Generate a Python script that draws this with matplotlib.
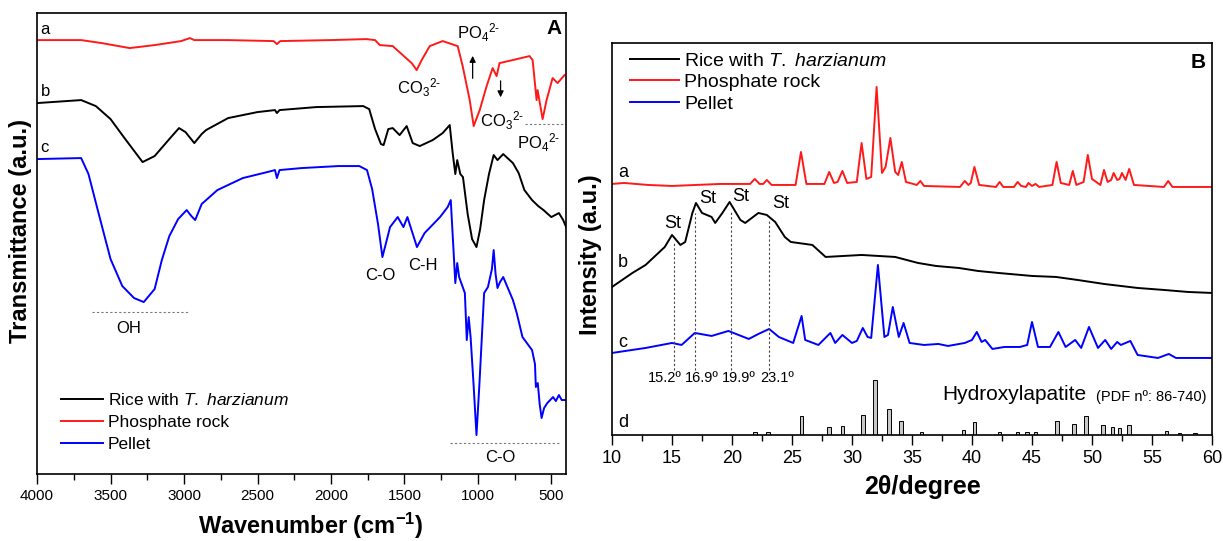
import numpy as np
import matplotlib
matplotlib.use("Agg")
import matplotlib.pyplot as plt

plt.rcParams['font.family'] = ['Liberation Sans', 'DejaVu Sans']
plt.rcParams['mathtext.fontset'] = 'custom'
plt.rcParams['mathtext.rm'] = 'Liberation Sans'
plt.rcParams['mathtext.it'] = 'Liberation Sans:italic'
plt.rcParams['mathtext.bf'] = 'Liberation Sans:bold'

# --- Panel A: FTIR (wavenumber, transmittance a.u.) ---
ftir_a_w = [4000, 3700, 3560, 3370, 3200, 3020, 2960, 2930, 2700, 2390, 2368, 2345, 2000, 1760, 1700,
            1668, 1580, 1512, 1451, 1417, 1383, 1328, 1240, 1138, 1104, 1056, 1029, 988, 941, 900, 873,
            853, 764, 649, 628, 601, 594, 560, 533, 492, 458, 411]
ftir_a_t = [434, 434, 431, 426, 429, 433, 436, 434, 434, 433, 430, 433, 434, 435, 434,
            429, 428, 419, 411, 404, 414, 428, 433, 428, 408, 374, 348, 364, 388, 406, 398,
            411, 414, 418, 414, 374, 384, 355, 374, 396, 391, 399]

ftir_b_w = [4000, 3900, 3700, 3600, 3500, 3400, 3282, 3200, 3100, 3034, 2990, 2930, 2880, 2850, 2700,
            2500, 2381, 2368, 2350, 2100, 1781, 1740, 1700, 1660, 1642, 1610, 1580, 1533, 1485, 1444,
            1396, 1308, 1240, 1192, 1172, 1154, 1141, 1120, 1102, 1070, 1040, 1010, 985, 958, 925,
            893, 867, 828, 762, 723, 684, 632, 590, 554, 501, 449, 420, 397]
ftir_b_t = [371, 372, 374, 368, 355, 335, 312, 318, 335, 346, 342, 331, 340, 344, 356,
            362, 364, 361, 364, 367, 368, 365, 345, 330, 329, 345, 346, 339, 348, 331,
            328, 334, 341, 349, 321, 300, 314, 300, 297, 260, 235, 227, 245, 274, 300,
            319, 314, 320, 311, 301, 284, 274, 268, 264, 257, 261, 254, 246]

ftir_c_w = [4000, 3700, 3650, 3580, 3500, 3420, 3340, 3274, 3200, 3151, 3100, 3040, 2982, 2950, 2924,
            2880, 2773, 2600, 2433, 2381, 2368, 2350, 2200, 1950, 1807, 1755, 1720, 1680, 1650, 1598,
            1546, 1507, 1480, 1415, 1363, 1258, 1206, 1185, 1154, 1141, 1128, 1089, 1076, 1063, 1050,
            1030, 1010, 990, 958, 932, 905, 893, 880, 867, 850, 828, 762, 736, 697, 632, 612, 606,
            593, 580, 567, 550, 528, 489, 470, 449, 430, 397]
ftir_c_t = [315, 316, 300, 260, 215, 188, 176, 172, 185, 214, 238, 255, 264, 258, 254,
            270, 284, 296, 302, 304, 296, 304, 306, 308, 308, 304, 285, 250, 217, 247,
            257, 247, 257, 227, 241, 257, 267, 274, 191, 211, 197, 181, 134, 157, 137,
            90, 39, 90, 181, 187, 205, 224, 200, 186, 192, 197, 174, 161, 137, 124, 110, 87,
            91, 70, 56, 66, 71, 77, 73, 79, 74, 74]

# --- Panel B: XRD (2theta, intensity a.u.) ---
xrd_a_tt = [10, 11, 13, 15, 17, 19, 21.5, 21.9, 22.3, 22.6, 22.9, 23.3, 25.3, 25.75, 26.2, 27.7, 28.1,
            28.5, 28.8, 29.2, 29.6, 30.4, 30.8, 31.2, 31.6, 32.05, 32.5, 32.8, 33.2, 33.6, 33.85, 34.15,
            34.5, 35.4, 35.7, 36.0, 39.0, 39.4, 39.7, 39.9, 40.2, 40.6, 42.0, 42.3, 42.6, 43.5, 43.8,
            44.1, 44.5, 44.7, 45.0, 45.3, 45.6, 46.7, 47.05, 47.4, 48.1, 48.4, 48.7, 49.3, 49.65, 50.0,
            50.7, 51.0, 51.3, 51.6, 51.8, 52.1, 52.3, 52.5, 52.8, 53.1, 53.5, 56.0, 56.35, 56.7, 58, 60]
xrd_a_i = [251, 252, 250, 249, 250, 251, 251, 256, 251, 251, 255, 250, 250, 283, 251, 251, 263,
           252, 253, 264, 252, 253, 292, 256, 258, 348, 262, 268, 297, 263, 260, 273,
           253, 250, 254, 249, 248, 254, 250, 252, 268, 250, 248, 253, 248, 248, 253,
           249, 248, 252, 249, 251, 248, 250, 273, 252, 250, 264, 250, 253, 280, 256,
           250, 265, 253, 255, 262, 255, 256, 262, 255, 266, 250, 248, 254, 248, 248, 248]

xrd_b_tt = [10, 11.7, 12.8, 14.4, 15.0, 15.7, 16.1, 16.7, 17.0, 17.5, 18.3, 18.6, 19.2, 19.8, 20.7,
            21.1, 22.2, 22.9, 23.6, 24.4, 24.9, 26.7, 27.8, 30.8, 33.6, 35.5, 37.0, 38.9, 40.5, 42.2,
            45.0, 47.0, 48.8, 51.0, 53.8, 56.0, 58.0, 60]
xrd_b_i = [148, 162, 170, 188, 200, 190, 193, 222, 232, 222, 218, 212, 222, 233, 215,
           212, 222, 220, 213, 198, 193, 190, 178, 180, 178, 172, 169, 167, 164, 162,
           159, 158, 155, 151, 147, 145, 143, 142]

xrd_c_tt = [10, 12.8, 15.0, 15.8, 16.9, 18.3, 19.7, 21.4, 22.2, 23.1, 23.9, 25.1, 25.8, 26.1, 27.2,
            28.2, 28.6, 29.2, 30.0, 30.4, 30.9, 31.3, 31.6, 32.16, 32.7, 33.0, 33.4, 33.9, 34.3, 34.8,
            36.0, 37.2, 38.0, 39.4, 40.0, 40.4, 40.8, 41.1, 41.7, 42.7, 44.0, 44.6, 45.0, 45.5, 46.5,
            47.2, 47.8, 48.6, 49.1, 49.75, 50.5, 51.1, 51.6, 52.1, 52.4, 52.6, 53.2, 53.8, 55.5, 56.4,
            57.0, 58.5, 60]
xrd_c_i = [82, 87, 92, 90, 102, 99, 104, 96, 101, 106, 98, 92, 119, 95, 90,
           102, 92, 100, 92, 94, 107, 98, 97, 170, 98, 100, 128, 98, 112, 92,
           90, 91, 89, 92, 95, 103, 93, 95, 86, 88, 88, 90, 113, 88, 88,
           103, 88, 95, 87, 108, 87, 95, 86, 93, 90, 91, 94, 80, 77, 81,
           77, 77, 77]

# Hydroxylapatite reference pattern (PDF 86-740)
hap_tt = [21.9, 23.0, 25.8, 28.1, 29.2, 30.9, 31.9, 33.1, 34.1, 35.8, 39.3, 40.2, 42.3, 43.8, 44.6,
          45.3, 47.1, 48.5, 49.5, 50.9, 51.7, 52.3, 53.1, 56.2, 57.3, 58.6]
hap_i = [3, 3, 19, 8, 9, 20, 55, 26, 14, 3, 5, 13, 3, 3, 3,
         3, 14, 11, 19, 10, 8, 7, 10, 4, 2, 2]

starch_tt = [15.2, 16.9, 19.9, 23.1]
starch_top = [193, 222, 225, 215]

legend_labels = [r'Rice with $\it{T.\ harzianum}$', 'Phosphate rock', 'Pellet']
colors = {'rice': 'black', 'rock': '#ff1a1a', 'pellet': '#0000ff'}

CO3 = r'CO$_3$$^{2\text{-}}$'
PO4 = r'PO$_4$$^{2\text{-}}$'

fig = plt.figure(figsize=(12.23, 5.41), dpi=100)
axA = fig.add_axes([0.0303, 0.1238, 0.4326, 0.852])
axB = fig.add_axes([0.5004, 0.196, 0.4906, 0.7246])

# ---------- Panel A ----------
lw = 1.4
lb, = axA.plot(ftir_b_w, ftir_b_t, color=colors['rice'], lw=lw)
la, = axA.plot(ftir_a_w, ftir_a_t, color=colors['rock'], lw=lw)
lc, = axA.plot(ftir_c_w, ftir_c_t, color=colors['pellet'], lw=lw)
axA.set_xlim(4000, 400)
axA.set_ylim(0, 461)
axA.set_xticks(np.arange(500, 4001, 500))
axA.set_xticks(np.arange(750, 4000, 500), minor=True)
axA.set_yticks([])
axA.tick_params(axis='x', which='major', direction='out', length=7, width=1, labelsize=11)
axA.tick_params(axis='x', which='minor', direction='out', length=4, width=1)
for s in axA.spines.values():
    s.set_linewidth(1.2)
axA.set_xlabel(r'Wavenumber (cm$^{\mathbf{-1}}$)', fontsize=17, fontweight='bold')
axA.xaxis.set_label_coords(0.518, -0.08)
axA.set_ylabel('Transmittance (a.u.)', fontsize=17, fontweight='bold')
axA.yaxis.set_label_coords(-0.010, 0.527)

fs = 12
axA.text(3975, 445, 'a', fontsize=fs, va='center')
axA.text(3975, 383, 'b', fontsize=fs, va='center')
axA.text(3975, 327, 'c', fontsize=fs, va='center')
axA.text(0.992, 0.967, 'A', transform=axA.transAxes, ha='right', va='center',
         fontsize=15, fontweight='bold')
axA.text(1553, 386, CO3, fontsize=fs, va='center')
axA.text(1145, 441, PO4, fontsize=fs, va='center')
axA.annotate('', xy=(1036, 421), xytext=(1036, 393),
             arrowprops=dict(arrowstyle='-|>', color='black', lw=0.9, mutation_scale=9))
axA.annotate('', xy=(846, 374), xytext=(846, 396),
             arrowprops=dict(arrowstyle='-|>', color='black', lw=0.9, mutation_scale=9))
axA.text(988, 353, CO3, fontsize=fs, va='center')
axA.plot([683, 400], [350, 350], color='#777777', lw=0.8, ls=(0, (2, 2)))
axA.text(737, 331, PO4, fontsize=fs, va='center')
axA.plot([3626, 2973], [162, 162], color='#777777', lw=0.8, ls=(0, (2, 2)))
axA.text(3375, 146, 'OH', fontsize=fs, ha='center', va='center')
axA.text(1662, 199, 'C-O', fontsize=fs, ha='center', va='center')
axA.text(1376, 209, 'C-H', fontsize=fs, ha='center', va='center')
axA.plot([1192, 451], [31, 31], color='#777777', lw=0.8, ls=(0, (2, 2)))
axA.text(846, 17, 'C-O', fontsize=fs, ha='center', va='center')

axA.legend([lb, la, lc], legend_labels, loc='upper left', bbox_to_anchor=(0.045, 0.178),
           frameon=False, fontsize=12.5, handlelength=2.4, handletextpad=0.3,
           labelspacing=0.4, borderpad=0, borderaxespad=0)

# ---------- Panel B ----------
mb, = axB.plot(xrd_b_tt, xrd_b_i, color=colors['rice'], lw=lw)
ma, = axB.plot(xrd_a_tt, xrd_a_i, color=colors['rock'], lw=lw)
mc, = axB.plot(xrd_c_tt, xrd_c_i, color=colors['pellet'], lw=lw)
axB.bar(hap_tt, hap_i, width=0.3, color='#c8c8c8', edgecolor='black', linewidth=0.7)
for t, top in zip(starch_tt, starch_top):
    axB.plot([t, t], [65, top], color='#444444', lw=0.8, ls=(0, (2, 2)))
axB.set_xlim(10, 60)
axB.set_ylim(0, 392)
axB.set_xticks(np.arange(10, 61, 5))
axB.set_xticks(np.arange(12.5, 60, 5), minor=True)
axB.set_yticks([])
axB.tick_params(axis='x', which='major', direction='out', length=7, width=1, labelsize=13)
axB.tick_params(axis='x', which='minor', direction='out', length=4, width=1)
for s in axB.spines.values():
    s.set_linewidth(1.2)
axB.set_xlabel('2θ/degree', fontsize=18, fontweight='bold')
axB.xaxis.set_label_coords(0.517, -0.102)
axB.set_ylabel('Intensity (a.u.)', fontsize=17, fontweight='bold')
axB.yaxis.set_label_coords(-0.017, 0.46)

axB.text(10.5, 262, 'a', fontsize=13, va='center')
axB.text(10.5, 172, 'b', fontsize=13, va='center')
axB.text(10.5, 92, 'c', fontsize=13, va='center')
axB.text(10.5, 12, 'd', fontsize=13, va='center')
for t, v in zip([15.1, 18.0, 20.7, 24.1], [211, 236, 238, 231]):
    axB.text(t, v, 'St', fontsize=13, ha='center', va='center')
for t, lab in zip([14.4, 17.5, 20.6, 23.8], ['15.2º', '16.9º', '19.9º', '23.1º']):
    axB.text(t, 57, lab, fontsize=10.5, ha='center', va='center')
axB.text(37.5, 40, 'Hydroxylapatite', fontsize=15, va='center')
axB.text(50.3, 38, '(PDF nº: 86-740)', fontsize=10.5, va='center')
axB.text(0.99, 0.95, 'B', transform=axB.transAxes, ha='right', va='center',
         fontsize=15, fontweight='bold')

axB.legend([mb, ma, mc], legend_labels, loc='upper left', bbox_to_anchor=(0.03, 0.977),
           frameon=False, fontsize=14, handlelength=2.5, handletextpad=0.3,
           labelspacing=0.2, borderpad=0, borderaxespad=0)

fig.savefig('out.png', dpi=100)
